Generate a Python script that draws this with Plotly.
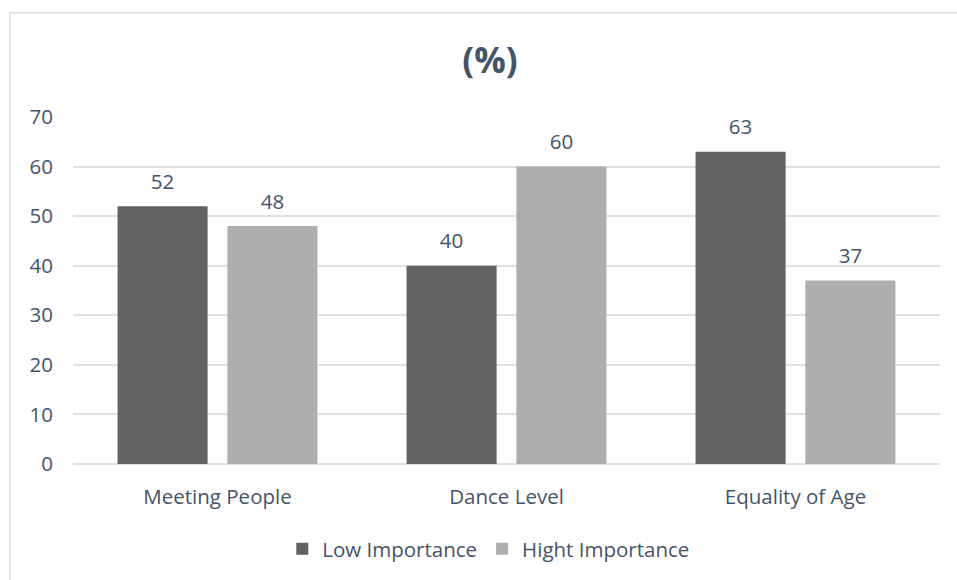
import plotly.graph_objects as go

categories = ["Meeting People", "Dance Level", "Equality of Age"]
low_importance = [52, 40, 63]
high_importance = [48, 60, 37]
series_names = ["Low Importance", "Hight Importance"]
y_ticks = [0, 10, 20, 30, 40, 50, 60, 70]

TEXT = "#44546A"
FONT = "Open Sans"
GRID = "#DDE1E6"
FS = 20.5
COLORS = ["#626262", "#AEAEAE"]

fig = go.Figure()
for name, vals, col, grp in [(series_names[0], low_importance, COLORS[0], "low"),
                             (series_names[1], high_importance, COLORS[1], "high")]:
    fig.add_trace(go.Bar(
        x=categories, y=vals, name=name, offsetgroup=grp,
        marker=dict(color=col, line=dict(width=0)),
    ))
for vals, grp in [(low_importance, "low"), (high_importance, "high")]:
    fig.add_trace(go.Scatter(
        x=categories, y=vals, offsetgroup=grp, mode="markers+text",
        text=[str(v) for v in vals], textposition="top center",
        marker=dict(size=18, opacity=0), showlegend=False, hoverinfo="skip",
        textfont=dict(size=FS, color=TEXT, family=FONT), cliponaxis=False,
    ))

fig.update_layout(
    width=957, height=580,
    margin=dict(l=73, r=17, t=117, b=115),
    paper_bgcolor="white", plot_bgcolor="white",
    barmode="group", bargap=0.24, bargroupgap=0.18,
    scattermode="group", scattergap=0.24,
    title=dict(text="<b>(%)</b>", x=0.512, xanchor="center", y=0.895, yanchor="middle",
               font=dict(size=35, color=TEXT, family=FONT)),
    font=dict(family=FONT, color=TEXT, size=FS),
    xaxis=dict(showgrid=False, showline=False, ticks="", zeroline=False,
               tickfont=dict(size=FS, color=TEXT, family=FONT), ticklabelstandoff=18),
    yaxis=dict(range=[0, 70], tickvals=y_ticks, showgrid=True, gridcolor=GRID, gridwidth=1.5,
               zeroline=True, zerolinecolor=GRID, zerolinewidth=1.5, showline=False, ticks="",
               tickfont=dict(size=FS, color=TEXT, family=FONT), ticklabelstandoff=19),
    legend=dict(orientation="h", x=0.479, xanchor="center", y=-0.241, yanchor="middle",
                font=dict(size=FS, color=TEXT, family=FONT), itemwidth=30,
                traceorder="normal", bgcolor="rgba(0,0,0,0)"),
    showlegend=True,
    shapes=[dict(type="rect", xref="paper", yref="paper", x0=-0.0727, x1=1.2, y0=-0.6, y1=1.3003,
                 line=dict(color="#D9DDE3", width=1.5), fillcolor="rgba(0,0,0,0)", layer="below")],
)

fig.write_html("out.html")
